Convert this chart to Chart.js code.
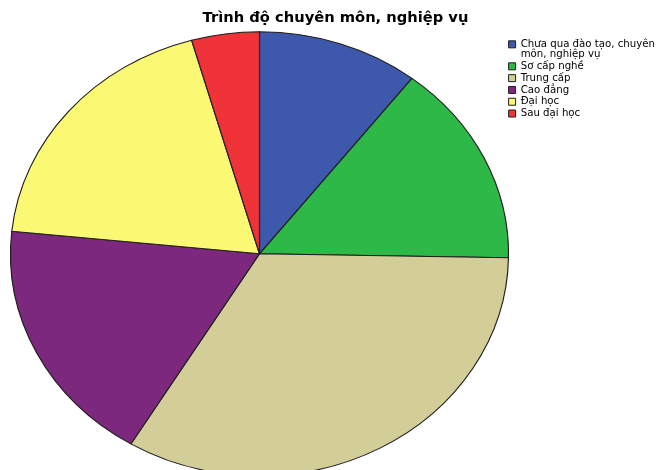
<!DOCTYPE html>
<html>
<head>
<meta charset="utf-8">
<script src="https://cdn.jsdelivr.net/npm/chart.js@4.4.1/dist/chart.umd.min.js"></script>
<style>
  html, body { margin: 0; padding: 0; background: #ffffff; }
  #wrap { width: 659px; height: 470px; position: relative; }
</style>
</head>
<body>
<div id="wrap"><canvas id="c" width="659" height="470"></canvas></div>
<script>
// ---- data ----
const categories = [
  ["Chưa qua đào tạo, chuyên", "môn, nghiệp vụ"],
  "Sơ cấp nghề",
  "Trung cấp",
  "Cao đẳng",
  "Đại học",
  "Sau đại học"
];
const percentages = [10.5, 14.8, 33.4, 18.0, 19.0, 4.4];
const sliceColors = ["#3E58AC", "#2EB848", "#D3CE97", "#7C287D", "#FBF873", "#EF3338"];
const chartTitle = "Trình độ chuyên môn, nghiệp vụ";

// ---- style ----
const ELLIPSE_RX = 249;
const ELLIPSE_RY = 222;

const ellipsePlugin = {
  id: 'ellipse',
  beforeDatasetsDraw(chart) {
    const arc = chart.getDatasetMeta(0).data[0];
    if (!arc) return;
    const { x, y, outerRadius } = arc.getProps(['x', 'y', 'outerRadius'], true);
    const ctx = chart.ctx;
    ctx.save();
    ctx.translate(x, y);
    ctx.scale(ELLIPSE_RX / outerRadius, ELLIPSE_RY / outerRadius);
    ctx.translate(-x, -y);
  },
  afterDatasetsDraw(chart) {
    chart.ctx.restore();
  }
};

new Chart(document.getElementById('c'), {
  type: 'pie',
  data: {
    labels: categories,
    datasets: [{
      data: percentages,
      backgroundColor: sliceColors,
      borderColor: '#1e1e1e',
      borderWidth: 1,
      clip: false
    }]
  },
  options: {
    responsive: false,
    animation: false,
    events: [],
    layout: { padding: { left: 12, right: 0, top: 0, bottom: 0 } },
    plugins: {
      title: {
        display: true,
        text: chartTitle,
        color: '#000000',
        font: { family: 'DejaVu Sans, sans-serif', size: 14.7, weight: 'bold' },
        padding: { top: 9, bottom: 11 }
      },
      legend: {
        position: 'right',
        align: 'start',
        fullSize: false,
        maxWidth: 152,
        labels: {
          color: '#000000',
          boxWidth: 7,
          boxHeight: 7,
          padding: 1.6,
          font: { family: 'DejaVu Sans, sans-serif', size: 10.2, lineHeight: 1.0 }
        }
      },
      tooltip: { enabled: false }
    }
  },
  plugins: [ellipsePlugin]
});
</script>
</body>
</html>
